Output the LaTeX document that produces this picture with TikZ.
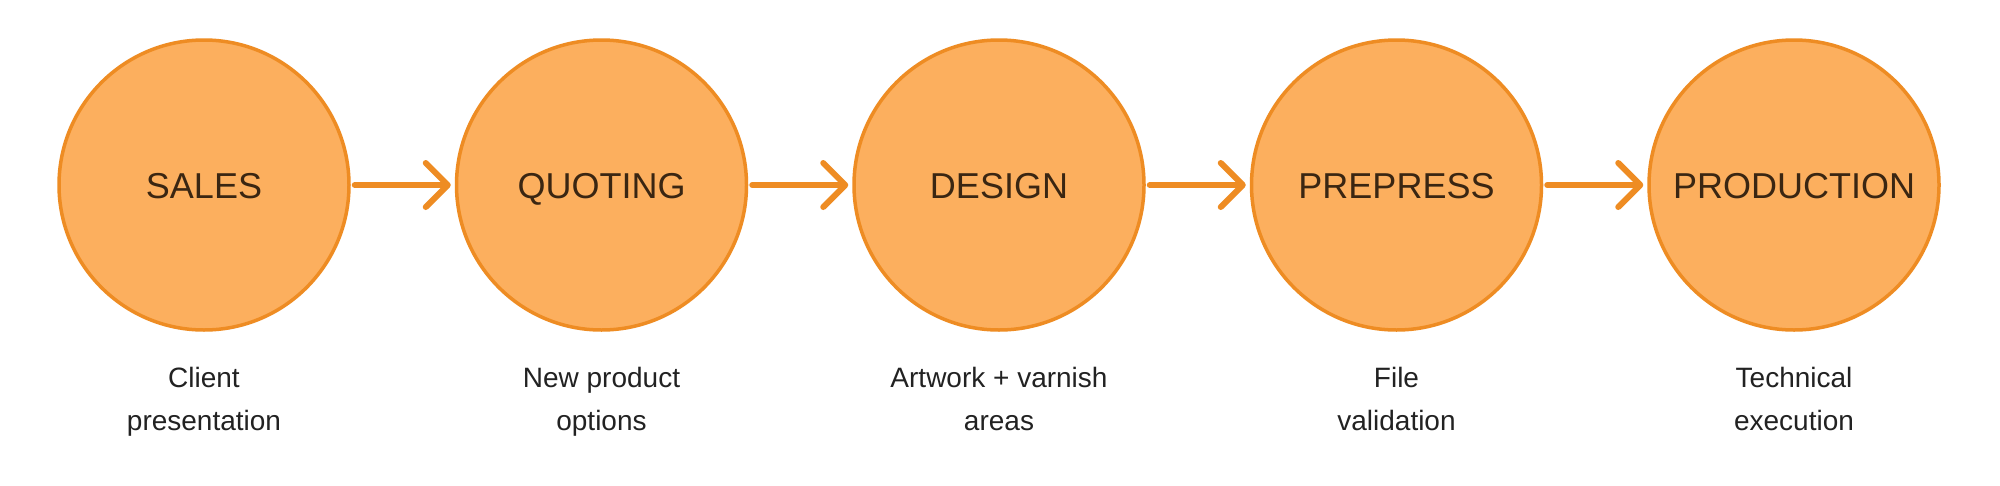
\documentclass[tikz,border=0pt]{standalone}
\usepackage{fontspec}
\setmainfont{Liberation Sans}
\usetikzlibrary{arrows.meta}
\definecolor{stagefill}{RGB}{252,175,94}
\definecolor{stageline}{RGB}{238,140,35}
\definecolor{stagetext}{RGB}{58,38,18}
\definecolor{labeltext}{RGB}{34,34,34}
\begin{document}
\begin{tikzpicture}[x=1pt,y=-1pt,
  stage/.style={circle, draw=stageline, fill=stagefill, line width=3.5pt,
    minimum size=290pt, inner sep=0pt, text=stagetext,
    text height=26pt, text depth=0pt,
    font=\fontsize{36}{40}\selectfont},
  caption/.style={anchor=base, align=center, text=labeltext, inner sep=0pt,
    font=\fontsize{28}{43}\selectfont},
  flow/.style={draw=stageline, line width=6pt, line cap=round,
    shorten <=4pt, shorten >=4pt,
    -{Straight Barb[length=22pt, width=44pt, line cap=round, line join=round]}}]
\useasboundingbox (0,0) rectangle (2000,485);
\fill[white] (0,0) rectangle (2000,485);
\node[stage] (s1) at (204,185) {SALES};
\node[stage] (s2) at (601.5,185) {QUOTING};
\node[stage] (s3) at (999,185) {DESIGN};
\node[stage] (s4) at (1396.5,185) {PREPRESS};
\node[stage] (s5) at (1794,185) {PRODUCTION};
\draw[flow] (s1) -- (s2);
\draw[flow] (s2) -- (s3);
\draw[flow] (s3) -- (s4);
\draw[flow] (s4) -- (s5);
\node[caption] (c1) at (204,430) {Client\\presentation};
\node[caption] (c2) at (601.5,430) {New product\\options};
\node[caption] (c3) at (999,430) {Artwork + varnish\\areas};
\node[caption] (c4) at (1396.5,430) {File\\validation};
\node[caption] (c5) at (1794,430) {Technical\\execution};
\end{tikzpicture}
\end{document}
